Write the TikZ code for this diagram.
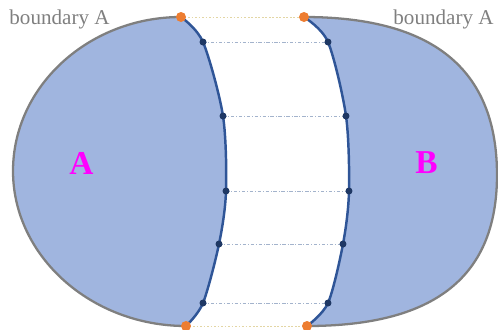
\documentclass[tikz,border=0pt]{standalone}
\usepackage{fontspec}
\setmainfont{Liberation Serif}
\usepackage{xcolor}
\definecolor{regionfill}{HTML}{A0B5DF}
\definecolor{rimgray}{HTML}{7F7F7F}
\definecolor{cutblue}{HTML}{2F5597}
\definecolor{knotnavy}{HTML}{1F3864}
\definecolor{endorange}{HTML}{ED7D31}
\definecolor{rungblue}{HTML}{A3B3CC}
\definecolor{rungtan}{HTML}{E3D6A4}
\definecolor{letterpink}{RGB}{255,0,255}
\tikzset{
    rim/.style={rimgray, line width=1.3pt},
    cut/.style={cutblue, line width=1.4pt},
    knot/.style={circle, fill=knotnavy, inner sep=0pt, minimum size=0.14cm},
    endpt/.style={circle, fill=endorange, inner sep=0pt, minimum size=0.2cm},
    rung/.style={rungblue, line width=0.5pt, dash pattern=on 2pt off 1pt on 0.5pt off 1pt},
    edgerung/.style={rungtan, line width=0.5pt, dash pattern=on 1pt off 1pt},
    tag/.style={rimgray, font=\fontsize{12}{14}\selectfont},
    letter/.style={letterpink, font=\fontsize{19}{22}\selectfont\bfseries},
}

\begin{document}
\begin{tikzpicture}[x=0.02cm, y=-0.02cm]
    \useasboundingbox (0,0) rectangle (498,329);

    % end points of the two cuts
    \coordinate (tl) at (181,17);
    \coordinate (bl) at (186,326);
    \coordinate (tr) at (304,17);
    \coordinate (br) at (307,326);
    \coordinate (lw) at (13,171);
    \coordinate (re) at (497,175);

    % points on the cuts
    \foreach \i/\px/\py in {1/203/42, 2/223/116, 3/226/191, 4/219/244, 5/203/303}
        \coordinate (pL\i) at (\px,\py);
    \foreach \i/\px/\py in {1/328/42, 2/346/116, 3/349/191, 4/343/244, 5/328/303}
        \coordinate (pR\i) at (\px,\py);

    % regions
    \fill[regionfill] (tl) .. controls (89,17) and (13,86) .. (lw)
        .. controls (13,256) and (91,326) .. (bl)
        -- plot[smooth] coordinates {(bl) (pL5) (pL4) (pL3) (pL2) (pL1) (tl)} -- cycle;
    \fill[regionfill] (tr) .. controls (440,17) and (497,75) .. (re)
        .. controls (497,275) and (437,326) .. (br)
        -- plot[smooth] coordinates {(br) (pR5) (pR4) (pR3) (pR2) (pR1) (tr)} -- cycle;

    % outer rim
    \draw[rim] (tl) .. controls (89,17) and (13,86) .. (lw)
        .. controls (13,256) and (91,326) .. (bl);
    \draw[rim] (tr) .. controls (440,17) and (497,75) .. (re)
        .. controls (497,275) and (437,326) .. (br);

    % cuts
    \draw[cut] plot[smooth] coordinates {(tl) (pL1) (pL2) (pL3) (pL4) (pL5) (bl)};
    \draw[cut] plot[smooth] coordinates {(tr) (pR1) (pR2) (pR3) (pR4) (pR5) (br)};

    % rungs
    \foreach \i in {1,...,5}
        \draw[rung] (pL\i) -- (pR\i);
    \draw[edgerung] (tl) -- (tr);
    \draw[edgerung] (bl) -- (br);

    % dots
    \foreach \i in {1,...,5} {
        \node[knot] (kL\i) at (pL\i) {};
        \node[knot] (kR\i) at (pR\i) {};
    }
    \node[endpt] (eTL) at (tl) {};
    \node[endpt] (eBL) at (bl) {};
    \node[endpt] (eTR) at (tr) {};
    \node[endpt] (eBR) at (br) {};

    % labels
    \node[letter] (nameA) at (81.5,163) {A};
    \node[letter] (nameB) at (426.5,163) {B};
    \node[tag] (tagL) at (59.5,19) {boundary A};
    \node[tag] (tagR) at (443.5,19) {boundary A};
\end{tikzpicture}
\end{document}
